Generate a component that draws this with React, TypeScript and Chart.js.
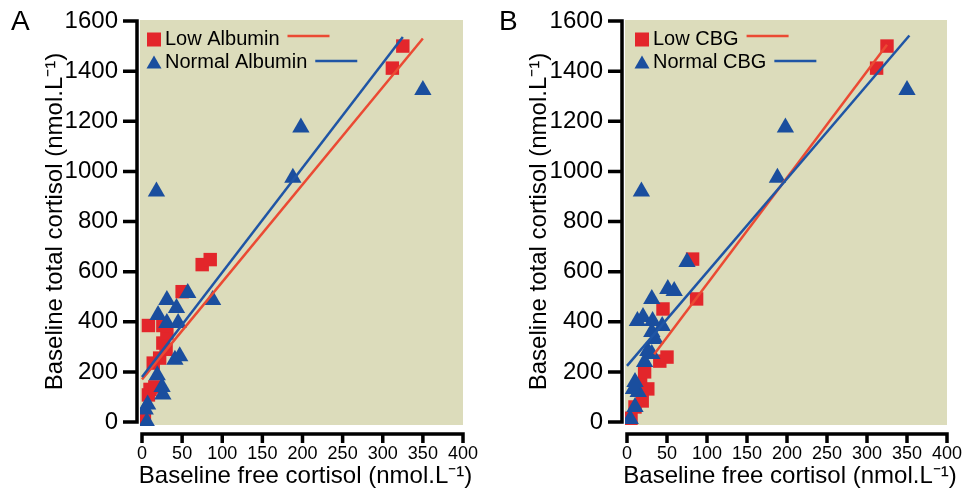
import React, { useEffect, useRef } from "react";
import { Chart, registerables } from "chart.js";
Chart.register(...registerables);

const FONT = "'Liberation Sans', Arial, Helvetica, sans-serif";

const xTickValues = [0, 50, 100, 150, 200, 250, 300, 350, 400];
const yTickValues = [0, 200, 400, 600, 800, 1000, 1200, 1400, 1600];

const xTitle = "Baseline free cortisol (nmol.L\u207B\u00B9)";
const yTitle = "Baseline total cortisol (nmol.L\u207B\u00B9)";

// Panel A
const lowAlbumin: [number, number][] = [
  [3, 10], [8, 108], [10, 130], [16, 140], [14, 235], [22, 255], [30, 290],
  [26, 315], [31, 355], [8, 385], [26, 385], [50, 520], [75, 628], [85, 648],
  [312, 1412], [325, 1500],
];
const normalAlbumin: [number, number][] = [
  [6, 0], [4, 50], [7, 70], [26, 110], [25, 140], [19, 187], [41, 248],
  [47, 262], [31, 395], [45, 395], [20, 427], [43, 455], [31, 487],
  [57, 515], [88, 487], [18, 920], [188, 975], [198, 1175], [350, 1325],
];
const lowAlbuminFit: [number, number][] = [[0, 170], [350, 1530]];
const normalAlbuminFit: [number, number][] = [[0, 180], [325, 1536]];

// Panel B
const lowCBG: [number, number][] = [
  [5, 15], [10, 60], [19, 84], [26, 132], [17, 150], [22, 200], [41, 243],
  [50, 259], [45, 451], [87, 491], [82, 650], [312, 1412], [325, 1500],
];
const normalCBG: [number, number][] = [
  [4, 12], [10, 60], [14, 120], [8, 132], [10, 160], [22, 239], [31, 271],
  [26, 283], [35, 331], [31, 359], [44, 383], [13, 403], [20, 419], [32, 403],
  [31, 491], [51, 531], [59, 523], [75, 638], [18, 920], [188, 975],
  [198, 1175], [350, 1325],
];
const lowCBGFit: [number, number][] = [[34, 270], [325, 1505]];
const normalCBGFit: [number, number][] = [[0, 224], [353, 1542]];

const RED_MARK = "#e3262b";
const BLUE_MARK = "#1a4e9e";
const RED_LINE = "#eb4a33";
const BLUE_LINE = "#1f55a5";
const BG = "#dcdcbb";

const toPts = (a: [number, number][]) => a.map(([x, y]) => ({ x, y }));

type PanelCfg = {
  left: number;
  letter: string;
  yAxisWidth: number;
  rightPad: number;
  low: [number, number][];
  normal: [number, number][];
  lowFit: [number, number][];
  normalFit: [number, number][];
  lowLabel: string;
  normalLabel: string;
  markerDx: number;
  textDx: number;
};

function makePlugin(cfg: PanelCfg) {
  return {
    id: "prismStyle",
    beforeDraw(chart: any) {
      const { ctx, chartArea: a } = chart;
      ctx.save();
      ctx.fillStyle = BG;
      ctx.fillRect(a.left - 2, a.top - 1, a.right - a.left + 2, a.bottom - a.top + 4);
      ctx.restore();
    },
    afterDraw(chart: any) {
      const { ctx, chartArea: a, scales } = chart;
      const xs = scales.x;
      const ys = scales.y;
      ctx.save();
      ctx.strokeStyle = "#000";
      ctx.lineWidth = 3.5;
      ctx.lineCap = "butt";
      // y axis (offset)
      const ax = a.left - 5;
      const yb = ys.getPixelForValue(yTickValues[0]);
      const yt = ys.getPixelForValue(yTickValues[yTickValues.length - 1]);
      ctx.beginPath();
      ctx.moveTo(ax, yb + 1.75);
      ctx.lineTo(ax, yt - 1.75);
      for (const t of ys.ticks) {
        const p = ys.getPixelForValue(t.value);
        ctx.moveTo(ax, p);
        ctx.lineTo(ax - 14, p);
      }
      ctx.stroke();
      // x axis (offset)
      const ay = a.bottom + 12;
      const xl = xs.getPixelForValue(xTickValues[0]);
      const xr = xs.getPixelForValue(xTickValues[xTickValues.length - 1]);
      ctx.beginPath();
      ctx.moveTo(xl - 1.75, ay);
      ctx.lineTo(xr + 1.75, ay);
      for (const t of xs.ticks) {
        const p = xs.getPixelForValue(t.value);
        ctx.moveTo(p, ay);
        ctx.lineTo(p, ay + 9);
      }
      ctx.stroke();

      // x title
      ctx.fillStyle = "#000";
      ctx.font = `24px ${FONT}`;
      ctx.textAlign = "center";
      ctx.textBaseline = "alphabetic";
      ctx.fillText(xTitle, (a.left + a.right) / 2 + 3, 483);

      // legend
      const L = a.left;
      const T = a.top;
      ctx.font = `20px ${FONT}`;
      ctx.textAlign = "left";
      ctx.textBaseline = "middle";
      const rows = [
        { label: cfg.lowLabel, cy: T + 18.5, lineY: T + 15, color: RED_MARK, line: RED_LINE, shape: "rect" },
        { label: cfg.normalLabel, cy: T + 41.5, lineY: T + 40, color: BLUE_MARK, line: BLUE_LINE, shape: "tri" },
      ];
      for (const r of rows) {
        const mx = L + cfg.markerDx;
        ctx.fillStyle = r.color;
        if (r.shape === "rect") {
          ctx.fillRect(mx - 7, r.cy - 7, 14, 14);
        } else {
          ctx.beginPath();
          ctx.moveTo(mx, r.cy - 7);
          ctx.lineTo(mx + 7.5, r.cy + 6);
          ctx.lineTo(mx - 7.5, r.cy + 6);
          ctx.closePath();
          ctx.fill();
        }
        ctx.fillStyle = "#000";
        const tx = L + cfg.textDx;
        ctx.fillText(r.label, tx, r.cy);
        const w = ctx.measureText(r.label).width;
        ctx.strokeStyle = r.line;
        ctx.lineWidth = 2.5;
        ctx.beginPath();
        ctx.moveTo(tx + w + 8, r.lineY);
        ctx.lineTo(tx + w + 50, r.lineY);
        ctx.stroke();
      }
      ctx.restore();
    },
  };
}

function Panel({ cfg }: { cfg: PanelCfg }) {
  const ref = useRef<HTMLCanvasElement | null>(null);
  useEffect(() => {
    if (!ref.current) return;
    const clip = { left: 2, right: 12, top: 12, bottom: 4 };
    const chart = new Chart(ref.current, {
      type: "scatter",
      data: {
        datasets: [
          {
            label: cfg.normalLabel + " fit",
            data: toPts(cfg.normalFit),
            showLine: true,
            borderColor: BLUE_LINE,
            borderWidth: 2.5,
            pointRadius: 0,
            fill: false,
            clip,
          } as any,
          {
            label: cfg.lowLabel + " fit",
            data: toPts(cfg.lowFit),
            showLine: true,
            borderColor: RED_LINE,
            borderWidth: 2.5,
            pointRadius: 0,
            fill: false,
            clip,
          } as any,
          {
            label: cfg.normalLabel,
            data: toPts(cfg.normal),
            pointStyle: "triangle",
            pointRadius: 10,
            pointHoverRadius: 10,
            backgroundColor: BLUE_MARK,
            borderColor: BLUE_MARK,
            borderWidth: 0,
            clip,
          } as any,
          {
            label: cfg.lowLabel,
            data: toPts(cfg.low),
            pointStyle: "rect",
            pointRadius: 9.5,
            pointHoverRadius: 9.5,
            backgroundColor: RED_MARK,
            borderColor: RED_MARK,
            borderWidth: 0,
            clip,
          } as any,
        ],
      },
      options: {
        animation: false,
        responsive: false,
        events: [],
        layout: { padding: { top: 21, right: cfg.rightPad, left: 0, bottom: 0 } },
        plugins: { legend: { display: false }, tooltip: { enabled: false } },
        scales: {
          x: {
            type: "linear",
            min: xTickValues[0],
            max: xTickValues[xTickValues.length - 1],
            afterBuildTicks: (s: any) => {
              s.ticks = xTickValues.map((v) => ({ value: v }));
            },
            afterFit: (s: any) => {
              s.height = 78;
              s.paddingLeft = 0;
              s.paddingRight = 0;
            },
            grid: { display: false, drawTicks: false },
            border: { display: false },
            ticks: {
              color: "#000",
              font: { family: FONT, size: 18 },
              padding: 21,
              maxRotation: 0,
              autoSkip: false,
              callback: (v: any) => String(v),
            },
          },
          y: {
            type: "linear",
            min: yTickValues[0],
            max: yTickValues[yTickValues.length - 1],
            afterBuildTicks: (s: any) => {
              s.ticks = yTickValues.map((v) => ({ value: v }));
            },
            afterFit: (s: any) => {
              s.width = cfg.yAxisWidth;
              s.paddingTop = 0;
              s.paddingBottom = 0;
            },
            grid: { display: false, drawTicks: false },
            border: { display: false },
            ticks: {
              color: "#000",
              font: { family: FONT, size: 24 },
              padding: 24,
              autoSkip: false,
              callback: (v: any) => String(v),
            },
            title: {
              display: true,
              text: yTitle,
              color: "#000",
              font: { family: FONT, size: 24 },
              padding: { top: 41, bottom: 0 },
            },
          },
        },
      },
      plugins: [makePlugin(cfg) as any],
    });
    return () => chart.destroy();
  }, [cfg]);
  return (
    <div style={{ position: "absolute", left: cfg.left, top: 0, width: 484, height: 500 }}>
      <canvas ref={ref} width={484} height={500} style={{ width: 484, height: 500 }} />
      <div
        style={{
          position: "absolute",
          left: cfg.letter === "A" ? 11 : 15,
          top: 7,
          fontFamily: FONT,
          fontSize: 28,
          lineHeight: "28px",
          color: "#000",
        }}
      >
        {cfg.letter}
      </div>
    </div>
  );
}

const panelA: PanelCfg = {
  left: 0,
  letter: "A",
  yAxisWidth: 142,
  rightPad: 21,
  low: lowAlbumin,
  normal: normalAlbumin,
  lowFit: lowAlbuminFit,
  normalFit: normalAlbuminFit,
  lowLabel: "Low Albumin",
  normalLabel: "Normal Albumin",
  markerDx: 12,
  textDx: 23,
};

const panelB: PanelCfg = {
  left: 484,
  letter: "B",
  yAxisWidth: 143,
  rightPad: 21,
  low: lowCBG,
  normal: normalCBG,
  lowFit: lowCBGFit,
  normalFit: normalCBGFit,
  lowLabel: "Low CBG",
  normalLabel: "Normal CBG",
  markerDx: 15,
  textDx: 26,
};

export default function App() {
  useEffect(() => {
    document.body.style.margin = "0";
  }, []);
  return (
    <div style={{ position: "relative", width: 968, height: 500, background: "#fff", overflow: "hidden" }}>
      <Panel cfg={panelA} />
      <Panel cfg={panelB} />
    </div>
  );
}
